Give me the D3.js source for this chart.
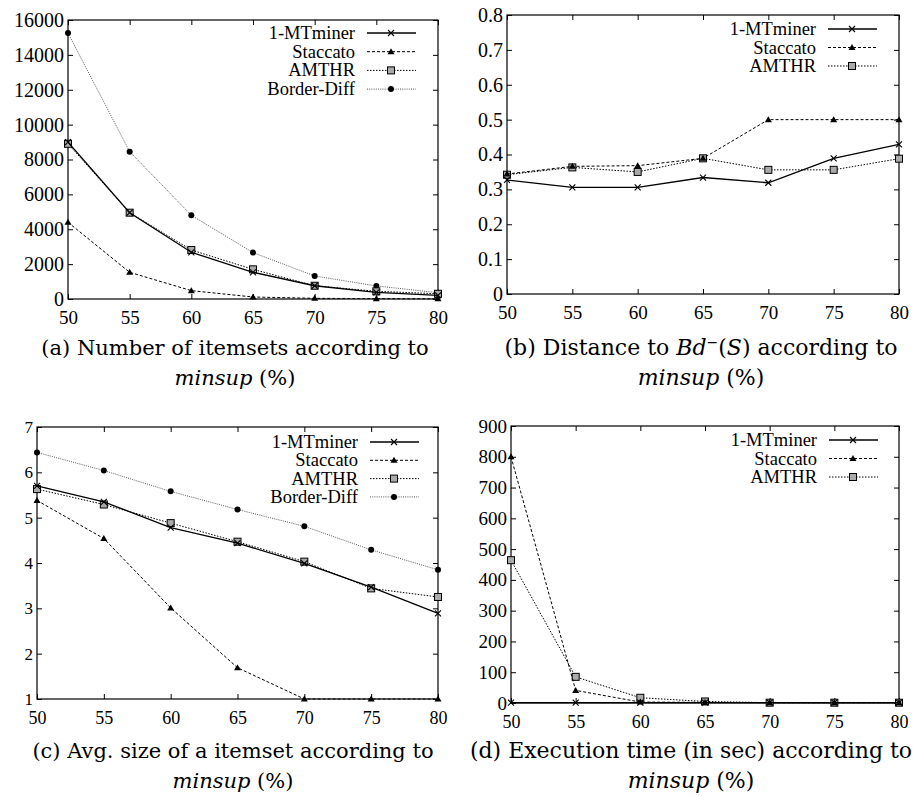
<!DOCTYPE html>
<html>
<head>
<meta charset="utf-8">
<script src="https://cdn.jsdelivr.net/npm/d3@7"></script>
<style>
  body { margin: 0; background: #fff; }
  svg { display: block; }
</style>
</head>
<body>
<div id="chart"></div>
<script>
// minsup (%) values on the x axis
const minsup = [50, 55, 60, 65, 70, 75, 80];
const seriesNames = ['1-MTminer', 'Staccato', 'AMTHR', 'Border-Diff'];

// (a) number of itemsets
const itemsetsMT = [9000, 4950, 2680, 1530, 760, 380, 210];
const itemsetsStaccato = [4400, 1530, 480, 115, 40, 20, 10];
const itemsetsAMTHR = [8900, 4950, 2810, 1700, 760, 440, 300];
const itemsetsBorder = [15250, 8450, 4800, 2660, 1320, 750, 360];
const itemsetsTicks = [0, 2000, 4000, 6000, 8000, 10000, 12000, 14000, 16000];

// (b) distance to Bd-(S)
const distMT = [0.327, 0.306, 0.306, 0.334, 0.319, 0.389, 0.429];
const distStaccato = [0.344, 0.366, 0.368, 0.389, 0.5, 0.5, 0.5];
const distAMTHR = [0.342, 0.363, 0.350, 0.389, 0.356, 0.356, 0.388];
const distTicks = [0, 0.1, 0.2, 0.3, 0.4, 0.5, 0.6, 0.7, 0.8];

// (c) avg size of an itemset
const sizeMT = [5.7, 5.35, 4.78, 4.44, 3.99, 3.47, 2.89];
const sizeStaccato = [5.38, 4.54, 3.01, 1.69, 1, 1, 1];
const sizeAMTHR = [5.63, 5.29, 4.88, 4.47, 4.03, 3.44, 3.25];
const sizeBorder = [6.44, 6.04, 5.58, 5.18, 4.81, 4.29, 3.85];
const sizeTicks = [1, 2, 3, 4, 5, 6, 7];

// (d) execution time in sec
const timeMT = [1, 1, 1, 1, 1, 1, 1];
const timeStaccato = [800, 41, 3, 2, 1, 1, 1];
const timeAMTHR = [464, 85, 17, 5, 1, 1, 1];
const timeTicks = [0, 100, 200, 300, 400, 500, 600, 700, 800, 900];

const styles = {
  '1-MTminer': { dash: null, width: 1.3, color: '#000', marker: 'cross' },
  'Staccato': { dash: '3,2', width: 1, color: '#000', marker: 'triangle' },
  'AMTHR': { dash: '1.5,1.5', width: 1, color: '#000', marker: 'square' },
  'Border-Diff': { dash: '1,1.2', width: 1, color: '#555', marker: 'circle' }
};

const svg = d3.select('#chart').append('svg').attr('width', 914).attr('height', 796);
const axisFont = "'Liberation Serif', 'Times New Roman', serif";
const captionFont = "'DejaVu Serif', serif";

function drawMarker(g, kind, x, y) {
  if (kind === 'cross') {
    g.append('path').attr('d', `M${x - 3},${y - 3}L${x + 3},${y + 3}M${x - 3},${y + 3}L${x + 3},${y - 3}`)
      .style('stroke', '#000').style('stroke-width', 1.1).style('fill', 'none');
  } else if (kind === 'triangle') {
    g.append('path').attr('d', `M${x},${y - 3.5}L${x + 3.5},${y + 2.5}L${x - 3.5},${y + 2.5}Z`)
      .style('fill', '#000');
  } else if (kind === 'square') {
    g.append('rect').attr('x', x - 3.5).attr('y', y - 3.5).attr('width', 7).attr('height', 7)
      .style('fill', '#aaa').style('stroke', '#000').style('stroke-width', 1);
  } else {
    g.append('circle').attr('cx', x).attr('cy', y).attr('r', 3).style('fill', '#000');
  }
}

function drawPanel(p) {
  const g = svg.append('g');
  const x = d3.scaleLinear().domain([50, 80]).range([p.left, p.right]);
  const y = d3.scaleLinear().domain([p.ticks[0], p.ticks[p.ticks.length - 1]]).range([p.bottom, p.top]);

  const left = g.append('g').attr('transform', `translate(${p.left},0)`)
    .call(d3.axisLeft(y).tickValues(p.ticks).tickSize(-5).tickPadding(4).tickFormat(p.format));
  const right = g.append('g').attr('transform', `translate(${p.right},0)`)
    .call(d3.axisRight(y).tickValues(p.ticks).tickSize(-5).tickFormat(''));
  const bottom = g.append('g').attr('transform', `translate(0,${p.bottom})`)
    .call(d3.axisBottom(x).tickValues(minsup).tickSize(-5).tickPadding(12));
  const top = g.append('g').attr('transform', `translate(0,${p.top})`)
    .call(d3.axisTop(x).tickValues(minsup).tickSize(-5).tickFormat(''));
  [left, right, bottom, top].forEach(function (a) {
    a.attr('font-family', null).attr('font-size', null);
    a.select('.domain').remove();
    a.selectAll('line').style('stroke', '#000').style('stroke-width', 1);
    a.selectAll('text').style('font-family', axisFont).style('fill', '#000');
  });
  left.selectAll('text').style('font-size', p.yFont + 'px');
  bottom.selectAll('text').style('font-size', p.xFont + 'px');

  g.append('rect').attr('x', p.left).attr('y', p.top)
    .attr('width', p.right - p.left).attr('height', p.bottom - p.top)
    .style('fill', 'none').style('stroke', '#000').style('stroke-width', 1.2);

  const line = d3.line().x(function (d, i) { return x(minsup[i]); }).y(function (d) { return y(d); });

  // draw in reverse so 1-MTminer ends up on top
  p.series.slice().reverse().forEach(function (s) {
    const st = styles[s.name];
    g.append('path').datum(s.values).attr('d', line)
      .style('fill', 'none').style('stroke', st.color).style('stroke-width', st.width)
      .style('stroke-dasharray', st.dash);
    s.values.forEach(function (v, i) { drawMarker(g, st.marker, x(minsup[i]), y(v)); });
  });

  // legend
  p.series.forEach(function (s, i) {
    const st = styles[s.name];
    const ly = p.legendY + i * p.legendStep;
    g.append('text').attr('x', p.legendX).attr('y', ly + 6).attr('text-anchor', 'end')
      .style('font-family', axisFont).style('font-size', '18.5px').text(s.name);
    g.append('line').attr('x1', p.legendX + 12).attr('x2', p.legendX + 61).attr('y1', ly).attr('y2', ly)
      .style('stroke', st.color).style('stroke-width', st.width).style('stroke-dasharray', st.dash);
    drawMarker(g, st.marker, p.legendX + 36, ly);
  });

  // caption
  const cap = g.append('text').attr('x', p.capX).attr('y', p.capY).attr('text-anchor', 'middle')
    .style('font-family', captionFont).style('font-size', p.capFont + 'px');
  p.caption(cap);
  const cap2 = g.append('text').attr('x', p.capX).attr('y', p.capY + 30).attr('text-anchor', 'middle')
    .style('font-family', captionFont).style('font-size', p.capFont + 'px');
  cap2.append('tspan').style('font-style', 'italic').text('minsup');
  cap2.append('tspan').text(' (%)');
}

drawPanel({
  left: 68, right: 438, top: 20, bottom: 299, ticks: itemsetsTicks, yFont: 20, xFont: 19,
  format: d3.format('d'),
  series: [
    { name: '1-MTminer', values: itemsetsMT },
    { name: 'Staccato', values: itemsetsStaccato },
    { name: 'AMTHR', values: itemsetsAMTHR },
    { name: 'Border-Diff', values: itemsetsBorder }
  ],
  legendX: 355, legendY: 33, legendStep: 18.7,
  capX: 235, capY: 355, capFont: 21,
  caption: function (t) { t.text('(a) Number of itemsets according to'); }
});

drawPanel({
  left: 507, right: 899, top: 15, bottom: 294, ticks: distTicks, yFont: 20, xFont: 19,
  format: function (d) { return d === 0 ? '0' : d3.format('.1f')(d); },
  series: [
    { name: '1-MTminer', values: distMT },
    { name: 'Staccato', values: distStaccato },
    { name: 'AMTHR', values: distAMTHR }
  ],
  legendX: 816, legendY: 29, legendStep: 18.5,
  capX: 701, capY: 355, capFont: 22,
  caption: function (t) {
    t.append('tspan').text('(b) Distance to ');
    t.append('tspan').style('font-style', 'italic').text('Bd');
    t.append('tspan').attr('dy', -8).style('font-size', '14px').text('\u2212');
    t.append('tspan').attr('dy', 8).text('(');
    t.append('tspan').style('font-style', 'italic').text('S');
    t.append('tspan').text(') according to');
  }
});

drawPanel({
  left: 37, right: 438, top: 427, bottom: 699, ticks: sizeTicks, yFont: 17, xFont: 18,
  format: d3.format('d'),
  series: [
    { name: '1-MTminer', values: sizeMT },
    { name: 'Staccato', values: sizeStaccato },
    { name: 'AMTHR', values: sizeAMTHR },
    { name: 'Border-Diff', values: sizeBorder }
  ],
  legendX: 358, legendY: 442, legendStep: 18.3,
  capX: 233, capY: 758, capFont: 21,
  caption: function (t) { t.text('(c) Avg. size of a itemset according to'); }
});

drawPanel({
  left: 511, right: 899, top: 426, bottom: 703, ticks: timeTicks, yFont: 19, xFont: 18,
  format: d3.format('d'),
  series: [
    { name: '1-MTminer', values: timeMT },
    { name: 'Staccato', values: timeStaccato },
    { name: 'AMTHR', values: timeAMTHR }
  ],
  legendX: 817, legendY: 440, legendStep: 18.5,
  capX: 691, capY: 758, capFont: 22,
  caption: function (t) { t.text('(d) Execution time (in sec) according to'); }
});
</script>
</body>
</html>
